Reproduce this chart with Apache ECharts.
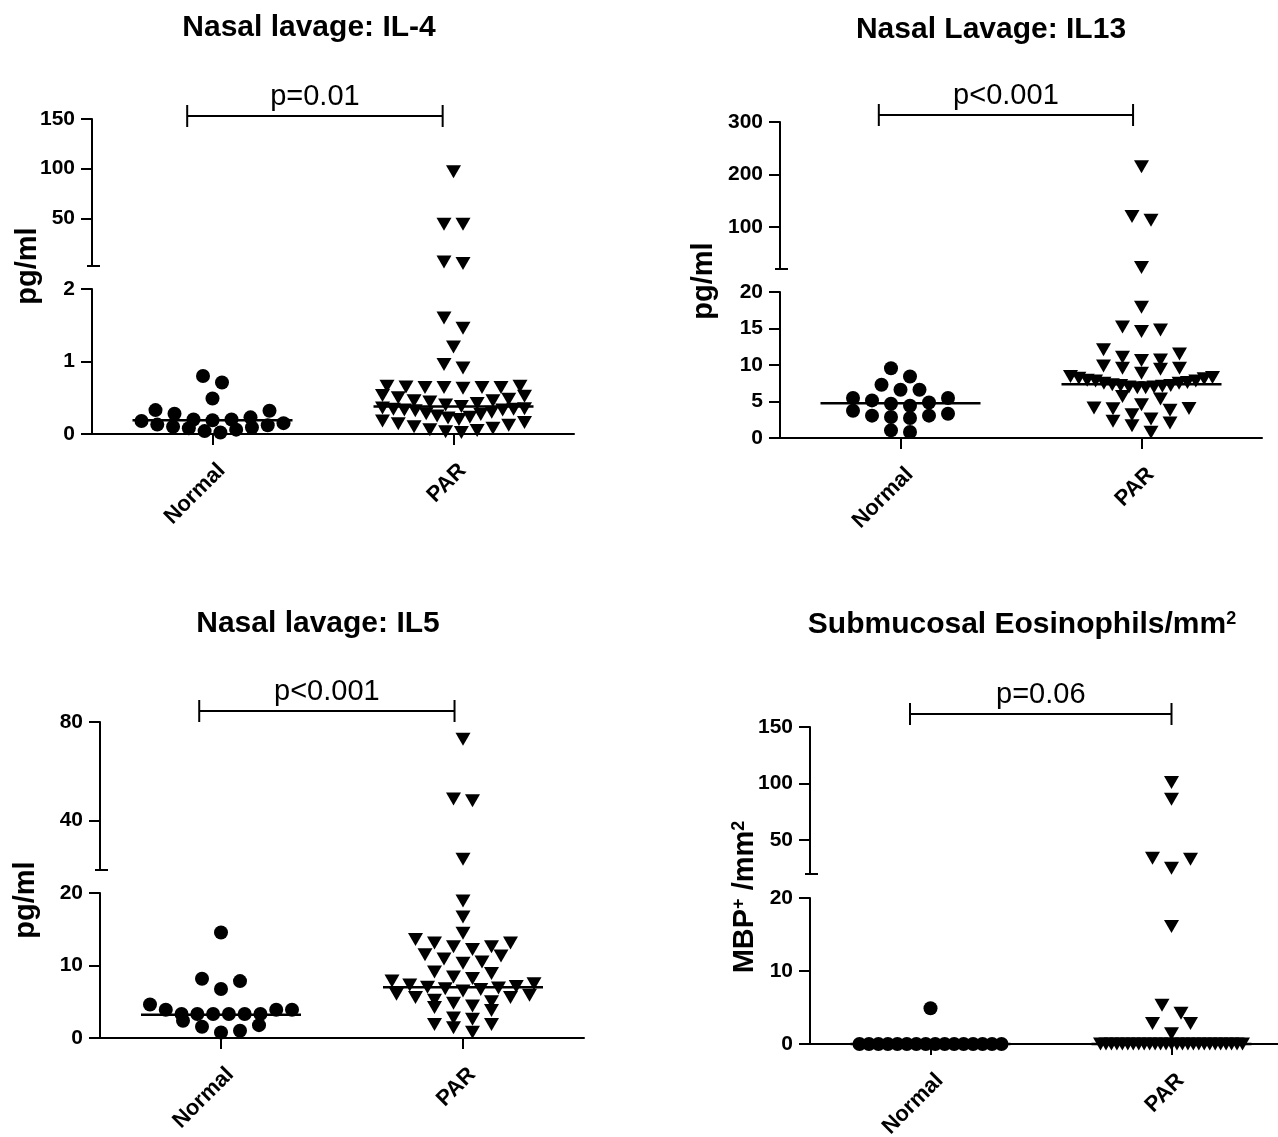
<!DOCTYPE html>
<html>
<head>
<meta charset="utf-8">
<title>Nasal lavage cytokines and submucosal eosinophils</title>
<script src="https://cdn.jsdelivr.net/npm/echarts@6/dist/echarts.min.js"></script>
<style>
  html, body { margin: 0; padding: 0; background: #fff; }
  #chart { width: 1278px; height: 1137px; }
</style>
</head>
<body>
<div id="chart"></div>
<script>
// groups on the x axis
const groups = ['Normal', 'PAR'];
const groupPos = [1, 3];

// Nasal lavage IL-4 (pg/ml)
const il4Normal = [0.80, 0.71, 0.49, 0.33, 0.32, 0.28, 0.23, 0.20, 0.20, 0.19, 0.18, 0.15, 0.13, 0.12, 0.10, 0.09, 0.08, 0.06, 0.04, 0.02];
const il4Par = [97, 44, 44, 6, 4.5, 1.60, 1.46, 1.20, 0.96, 0.91, 0.66, 0.65, 0.64, 0.64, 0.64, 0.63, 0.64, 0.66,
  0.53, 0.52, 0.50, 0.48, 0.46, 0.46, 0.44, 0.42, 0.40, 0.38, 0.36, 0.35, 0.34, 0.34, 0.33, 0.33, 0.32, 0.30,
  0.28, 0.27, 0.25, 0.23, 0.22, 0.20, 0.18, 0.16, 0.14, 0.12, 0.10, 0.08, 0.06, 0.05, 0.03, 0.02];
const il4Lines = [0.19, 0.38];
const il4LowerTicks = [0, 1, 2];
const il4UpperTicks = [50, 100, 150];
const il4Range = [0, 2, 150];

// Nasal lavage IL13 (pg/ml)
const il13Normal = [9.56, 8.42, 7.29, 6.6, 6.6, 5.47, 5.47, 5.15, 4.87, 4.69, 4.42, 3.74, 3.33, 3.06, 3.06, 2.88, 2.74, 1.05, 0.83];
const il13Par = [215, 120, 113, 23, 17.9, 15.2, 14.8, 14.6, 12.1, 11.5, 11.06, 10.7, 10.6, 9.88, 9.56, 9.56, 9.42, 8.88,
  8.42, 8.3, 8.2, 8.1, 7.9, 7.8, 7.8, 7.6, 7.5, 7.5, 7.3, 7.2, 7.2, 7.1, 7.0, 7.0, 6.9, 6.9,
  5.7, 5.33, 4.56, 4.1, 4.05, 4.0, 3.8, 3.19, 2.6, 2.28, 2.05, 1.69, 0.78];
const il13Lines = [4.75, 7.38];
const il13LowerTicks = [0, 5, 10, 15, 20];
const il13UpperTicks = [100, 200, 300];
const il13Range = [0, 20, 300];

// Nasal lavage IL5 (pg/ml)
const il5Normal = [14.55, 8.18, 7.85, 6.76, 4.63, 3.9, 3.9, 3.9, 3.31, 3.31, 3.31, 3.31, 3.31, 3.31, 2.37, 1.77, 1.56, 1.0, 0.76];
const il5Par = [73, 48.8, 48.1, 24.4, 18.9, 16.7, 14.45, 13.6, 13.1, 13.1, 12.6, 12.6, 12.2, 11.5, 11.3, 10.9, 10.5, 10.3,
  9.1, 8.9, 8.4, 8.2, 7.85, 7.5, 7.3, 7.1, 7.0, 6.9, 6.8, 6.7, 6.5, 6.05, 5.9, 5.6, 5.6, 5.2, 5.0, 4.8, 4.4, 4.2, 3.8,
  2.75, 2.6, 1.85, 1.85, 1.4, 0.8];
const il5Lines = [3.2, 7.0];
const il5LowerTicks = [0, 10, 20];
const il5UpperTicks = [40, 80];
const il5Range = [0, 20, 80];

// Submucosal eosinophils (MBP+ cells / mm2)
const eosNormal = [4.9, 0, 0, 0, 0, 0, 0, 0, 0, 0, 0, 0, 0, 0, 0, 0, 0];
const eosPar = [101, 86, 34, 33, 25, 16.1, 5.3, 4.2, 2.8, 2.8, 1.4,
  0, 0, 0, 0, 0, 0, 0, 0, 0, 0, 0, 0, 0, 0, 0, 0, 0, 0, 0, 0, 0, 0, 0, 0, 0, 0, 0];
const eosLines = [0, 0];
const eosLowerTicks = [0, 10, 20];
const eosUpperTicks = [50, 100, 150];
const eosRange = [0, 20, 150];

const pLabels = ['p=0.01', 'p<0.001', 'p<0.001', 'p=0.06'];

const FONT = 'Liberation Sans';
const INK = '#000';
// dot layout, in pixels
const ROW_PX = 12, TIE_PX = 6, DOT_GAP = 19, MAX_SPREAD = 142, HALF_LINE = 80;

const panels = [
  { title: 'Nasal lavage: IL-4', titleAt: [309, 28], yName: 'pg/ml', nameAt: [28, 266],
    left: 92, width: 482, upper: { top: 119, height: 147, ticks: il4UpperTicks },
    lower: { top: 289, height: 145, ticks: il4LowerTicks }, range: il4Range,
    normal: il4Normal, par: il4Par, lines: il4Lines, p: pLabels[0], bracket: [0.79, 2.91], gap: 3 },
  { title: 'Nasal Lavage: IL13', titleAt: [991, 30], yName: 'pg/ml', nameAt: [704, 281],
    left: 780, width: 482, upper: { top: 122, height: 147, ticks: il13UpperTicks },
    lower: { top: 292, height: 146, ticks: il13LowerTicks }, range: il13Range,
    normal: il13Normal, par: il13Par, lines: il13Lines, p: pLabels[1], bracket: [0.82, 2.93], gap: 7 },
  { title: 'Nasal lavage: IL5', titleAt: [318, 624], yName: 'pg/ml', nameAt: [26, 900],
    left: 100, width: 484, upper: { top: 722, height: 148, ticks: il5UpperTicks },
    lower: { top: 893, height: 145, ticks: il5LowerTicks }, range: il5Range,
    normal: il5Normal, par: il5Par, lines: il5Lines, p: pLabels[2], bracket: [0.82, 2.93], gap: 11 },
  { title: 'Submucosal Eosinophils/mm{sup|2}', titleAt: [1022, 625], yName: 'MBP{sup|+} /mm{sup|2}', nameAt: [745, 897],
    left: 810, width: 482, upper: { top: 727, height: 147, ticks: eosUpperTicks },
    lower: { top: 898, height: 146, ticks: eosLowerTicks }, range: eosRange,
    normal: eosNormal, par: eosPar, lines: eosLines, p: pLabels[3], bracket: [0.83, 3.0], gap: 13 }
];

// Prism-like spread: group close values into rows, lowest in the middle of each row
function spread(values, center, pxPerY, pxPerX) {
  const sorted = values.slice().sort((a, b) => a - b);
  const rows = [];
  sorted.forEach(v => {
    const row = rows[rows.length - 1];
    let near = row && (v - row[0]) * pxPerY <= ROW_PX;
    // a long run of identical values keeps its own row
    if (near && row.length >= 3 && row[row.length - 1] === row[0] && (v - row[0]) * pxPerY > TIE_PX) near = false;
    if (near) row.push(v);
    else rows.push([v]);
  });
  const pts = [];
  rows.forEach(row => {
    const n = row.length;
    const step = n > 1 ? Math.min(DOT_GAP, MAX_SPREAD / (n - 1)) : 0;
    const slots = row.map((_, i) => (i - (n - 1) / 2) * step)
      .sort((a, b) => Math.abs(a) - Math.abs(b) || b - a);
    row.forEach((v, i) => pts.push([center + slots[i] / pxPerX, v]));
  });
  return pts;
}

const supStyle = { fontFamily: FONT, fontWeight: 'bold', fontSize: 18, fill: INK, verticalAlign: 'top' };

const grids = [], xAxes = [], yAxes = [], series = [], elements = [];

panels.forEach(pn => {
  const segs = {
    lower: Object.assign({ min: pn.range[0], max: pn.range[1] }, pn.lower),
    upper: Object.assign({ min: pn.range[1], max: pn.range[2] }, pn.upper)
  };
  ['lower', 'upper'].forEach(key => {
    const s = segs[key];
    const gi = grids.length;
    s.index = gi;
    grids.push({ left: pn.left, width: pn.width, top: s.top, height: s.height, outerBoundsMode: 'none' });
    if (key === 'lower') {
      xAxes.push({
        gridIndex: gi, type: 'value', min: 0, max: 4,
        axisLine: { lineStyle: { color: INK, width: 2 } },
        axisTick: { customValues: groupPos, length: 11, lineStyle: { color: INK, width: 2 } },
        axisLabel: {
          customValues: groupPos, formatter: v => groups[groupPos.indexOf(v)],
          rotate: 45, margin: 24, verticalAlign: 'top', lineHeight: 26,
          color: INK, fontFamily: FONT, fontWeight: 'bold', fontSize: 22
        },
        splitLine: { show: false }
      });
    } else {
      xAxes.push({ gridIndex: gi, type: 'value', min: 0, max: 4, show: false });
    }
    yAxes.push({
      gridIndex: gi, type: 'value', min: s.min, max: s.max,
      axisLine: { show: true, lineStyle: { color: INK, width: 2 } },
      axisTick: { show: true, customValues: s.ticks, length: 11, lineStyle: { color: INK, width: 2 } },
      axisLabel: {
        customValues: s.ticks, margin: 17,
        color: INK, fontFamily: FONT, fontWeight: 'bold', fontSize: 21
      },
      splitLine: { show: false }
    });

    const pxPerY = s.height / (s.max - s.min);
    const pxPerX = pn.width / 4;
    const pick = vals => vals.filter(v => key === 'lower' ? v <= s.max : v > s.min);
    series.push({
      type: 'scatter', xAxisIndex: gi, yAxisIndex: gi, silent: true, clip: false, z: 3,
      symbol: 'circle', symbolSize: 14, itemStyle: { color: INK, opacity: 1 },
      data: spread(pick(pn.normal), groupPos[0], pxPerY, pxPerX)
    });
    series.push({
      type: 'scatter', xAxisIndex: gi, yAxisIndex: gi, silent: true, clip: false, z: 3,
      symbol: 'triangle', symbolRotate: 180, symbolSize: [15, 13], itemStyle: { color: INK, opacity: 1 },
      data: spread(pick(pn.par), groupPos[1], pxPerY, pxPerX)
    });
  });

  // median lines
  series.push({
    type: 'custom', xAxisIndex: segs.lower.index, yAxisIndex: segs.lower.index, clip: false, silent: true, z: 4,
    data: groupPos.map((x, i) => [x, pn.lines[i]]),
    renderItem: (params, api) => {
      const c = api.coord([api.value(0), api.value(1)]);
      return { type: 'line', shape: { x1: c[0] - HALF_LINE, y1: c[1], x2: c[0] + HALF_LINE, y2: c[1] },
        style: { stroke: INK, lineWidth: 2.5 } };
    }
  });

  // significance bracket and the break cap of the upper axis segment
  series.push({
    type: 'custom', xAxisIndex: segs.upper.index, yAxisIndex: segs.upper.index, clip: false, silent: true, z: 4,
    data: [[pn.bracket[0], pn.bracket[1], segs.upper.max, segs.upper.min]],
    renderItem: (params, api) => {
      const a = api.coord([api.value(0), api.value(2)]);
      const b = api.coord([api.value(1), api.value(2)]);
      const cap = api.coord([0, api.value(3)]);
      const y = a[1] - pn.gap;
      const st = { stroke: INK, lineWidth: 2 };
      return { type: 'group', children: [
        { type: 'line', shape: { x1: a[0], y1: y, x2: b[0], y2: y }, style: st },
        { type: 'line', shape: { x1: a[0], y1: y - 11, x2: a[0], y2: y + 11 }, style: st },
        { type: 'line', shape: { x1: b[0], y1: y - 11, x2: b[0], y2: y + 11 }, style: st },
        { type: 'line', shape: { x1: cap[0] - 5, y1: cap[1], x2: cap[0] + 8, y2: cap[1] }, style: st },
        { type: 'text', x: (a[0] + b[0]) / 2, y: y - 19,
          style: { text: pn.p, fontFamily: FONT, fontSize: 29, fill: INK, align: 'center', verticalAlign: 'middle' } }
      ] };
    }
  });

  elements.push({
    type: 'text', x: pn.titleAt[0], y: pn.titleAt[1],
    style: { text: pn.title, fontFamily: FONT, fontWeight: 'bold', fontSize: 30, fill: INK,
      align: 'center', verticalAlign: 'middle', rich: { sup: supStyle } }
  });
  elements.push({
    type: 'text', x: pn.nameAt[0], y: pn.nameAt[1], rotation: Math.PI / 2,
    style: { text: pn.yName, fontFamily: FONT, fontWeight: 'bold', fontSize: 29, fill: INK,
      align: 'center', verticalAlign: 'middle', rich: { sup: supStyle } }
  });
});

const chart = echarts.init(document.getElementById('chart'), null, { renderer: 'canvas' });
chart.setOption({
  backgroundColor: '#fff',
  animation: false,
  textStyle: { fontFamily: FONT, color: INK },
  grid: grids,
  xAxis: xAxes,
  yAxis: yAxes,
  series: series,
  graphic: { elements: elements }
});
</script>
</body>
</html>
